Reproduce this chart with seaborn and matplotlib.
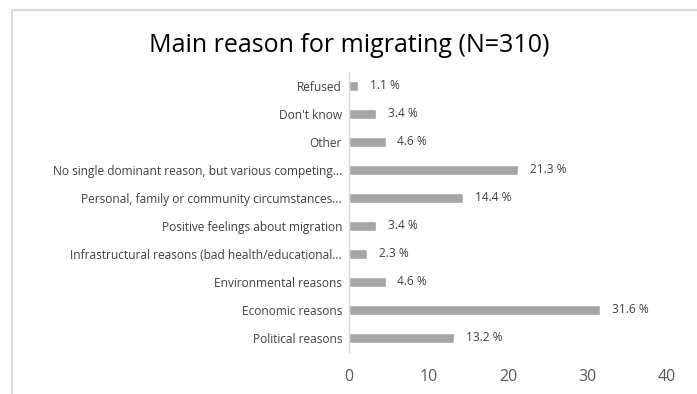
import matplotlib
matplotlib.use("Agg")
import matplotlib.pyplot as plt
import seaborn as sns
import pandas as pd
from matplotlib.lines import Line2D

categories = [
    "Refused",
    "Don't know",
    "Other",
    "No single dominant reason, but various competing...",
    "Personal, family or community circumstances...",
    "Positive feelings about migration",
    "Infrastructural reasons (bad health/educational...",
    "Environmental reasons",
    "Economic reasons",
    "Political reasons",
]
values = [1.1, 3.4, 4.6, 21.3, 14.4, 3.4, 2.3, 4.6, 31.6, 13.2]
value_labels = ["1.1 %", "3.4 %", "4.6 %", "21.3 %", "14.4 %", "3.4 %", "2.3 %", "4.6 %", "31.6 %", "13.2 %"]
xticks = [0, 10, 20, 30, 40]
title = "Main reason for migrating (N=310)"

df = pd.DataFrame({"reason": categories, "pct": values})

sns.set_theme(style="white")
plt.rcParams["font.family"] = ["Open Sans", "DejaVu Sans"]

fig = plt.figure(figsize=(6.97, 3.94), dpi=100)
ax = fig.add_axes([349 / 697, 1 - 352 / 394, 318 / 697, 280 / 394])

sns.barplot(data=df, x="pct", y="reason", order=categories, color="#A5A5A5",
            saturation=1, width=0.36, ax=ax)

ax.set_xlim(0, 40)
ax.set_ylim(len(categories) - 0.5, -0.5)
ax.set_xticks(xticks)
ax.set_xticklabels([str(t) for t in xticks], fontsize=11.5, color="#595959")
ax.tick_params(axis="x", length=0, pad=12)
ax.tick_params(axis="y", length=0, pad=5, labelsize=8.6, labelcolor="#404040")
ax.set_xlabel("")
ax.set_ylabel("")
for s in ["top", "right", "bottom"]:
    ax.spines[s].set_visible(False)
ax.spines["left"].set_color("#D9D9D9")
ax.spines["left"].set_linewidth(1)

for p, lab in zip(ax.patches, value_labels):
    w = p.get_width()
    y = p.get_y() + p.get_height() / 2
    ax.annotate(lab, (w, y), xytext=(8.5, 0.5), textcoords="offset points",
                va="center", ha="left", fontsize=8.6, color="#404040")

fig.text(349 / 697, 1 - 45 / 394, title, ha="center", va="center",
         fontsize=18, color="#000000")

# outer chart frame (left and top edges)
fig.add_artist(Line2D([12 / 697, 12 / 697], [0, 1 - 10 / 394], transform=fig.transFigure,
                      color="#D9D9D9", lw=1.5))
fig.add_artist(Line2D([12 / 697, 1], [1 - 10 / 394, 1 - 10 / 394], transform=fig.transFigure,
                      color="#D9D9D9", lw=1.5))

fig.savefig("out.png", dpi=100, facecolor="white")
